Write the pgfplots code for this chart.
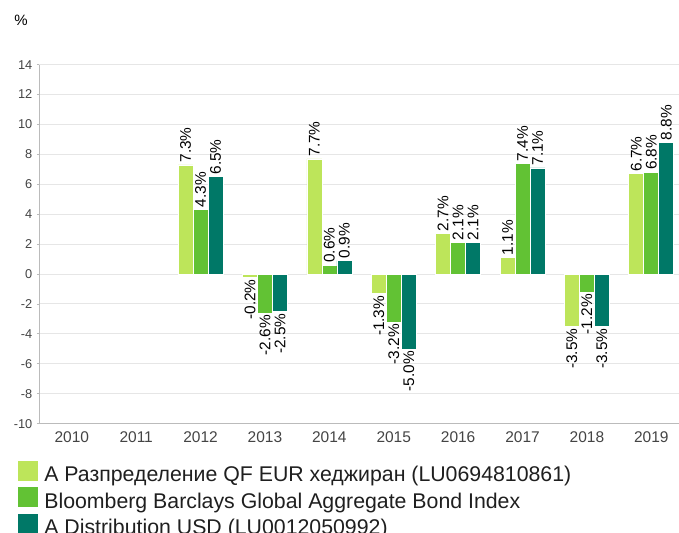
\documentclass[border=0pt]{standalone}
\usepackage{fontspec}
\setmainfont{Liberation Sans}
\usepackage{pgfplots}
\usepackage{pgfplotstable}
\pgfplotsset{compat=1.18}
\definecolor{cA}{HTML}{BDE55A}
\definecolor{cB}{HTML}{62C234}
\definecolor{cC}{HTML}{007867}
\definecolor{gridc}{HTML}{E6E6E6}
\definecolor{axc}{HTML}{BBBBBB}
\definecolor{txt}{HTML}{444444}
\pgfplotsset{sqlegend/.style={legend image code/.code={\fill[##1] (0bp,-7.5bp) rectangle (21bp,13.5bp);}}}
\pgfplotstableread{
x a b c
2 7.3 4.3 6.5
3 -0.2 -2.6 -2.5
4 7.7 0.6 0.9
5 -1.3 -3.2 -5.0
6 2.7 2.1 2.1
7 1.1 7.4 7.1
8 -3.5 -1.2 -3.5
9 6.7 6.8 8.8
}\data
\begin{document}
\begin{tikzpicture}
\begin{axis}[
  at={(39.3bp,109.4bp)}, anchor=south west,
  scale only axis, width=640bp, height=359bp,
  xmin=-0.505, xmax=9.435, ymin=-10, ymax=14,
  ybar=0pt, bar width=15bp,
  clip=false,
  axis x line*=bottom, axis y line*=left,
  axis line style={axc, line width=0.8bp},
  xtick={0,...,9},
  xticklabels={2010,2011,2012,2013,2014,2015,2016,2017,2018,2019},
  x tick style={draw=none},
  ytick={-10,-8,...,14},
  yticklabels={-10,-8,-6,-4,-2,0,2,4,6,8,10,12,14},
  y tick style={axc, line width=0.8bp},
  tick align=outside, major tick length=2.5bp,
  ymajorgrids, grid style={gridc, line width=1bp},
  x tick label style={font=\fontsize{15.5bp}{17bp}\selectfont, text=txt, yshift=-2.5bp},
  y tick label style={font=\fontsize{12.8bp}{15bp}\selectfont, text=txt, xshift=-1bp},
  point meta=explicit symbolic,
  nodes near coords={\pgfplotspointmeta\%},
  visualization depends on={rawy \as \rawy},
  every node near coord/.append style={rotate=90, font=\fontsize{15.4bp}{17bp}\selectfont, text=black, inner sep=2bp},
  every node near coord/.append code={\ifdim\rawy pt<0pt \pgfkeysalso{anchor=east}\else\pgfkeysalso{anchor=west}\fi},
  legend style={at={(axis description cs:-0.0348,-0.100)}, anchor=north west, draw=none, fill=none,
    font=\fontsize{21.3bp}{24bp}\selectfont, text=black!88, inner sep=0pt, row sep=0.2bp, column sep=5.5bp,
    nodes={inner xsep=0bp, inner ysep=1bp, text height=19.5bp, text depth=4bp}},
  legend cell align=left,
]
\addplot[fill=cA, draw=white, line width=0.6bp, sqlegend] table[x=x, y=a, meta=a] {\data};
\addplot[fill=cB, draw=white, line width=0.6bp, sqlegend] table[x=x, y=b, meta=b] {\data};
\addplot[fill=cC, draw=white, line width=0.6bp, sqlegend] table[x=x, y=c, meta=c] {\data};
\legend{A Разпределение QF EUR хеджиран (LU0694810861), Bloomberg Barclays Global Aggregate Bond Index, A Distribution USD (LU0012050992)}
\node[font=\fontsize{15bp}{17bp}\selectfont] at (rel axis cs:-0.0286,1.124) {\%};
\end{axis}
\pgfresetboundingbox
\path[use as bounding box] (0,0) rectangle (679bp,533bp);
\end{tikzpicture}
\end{document}
